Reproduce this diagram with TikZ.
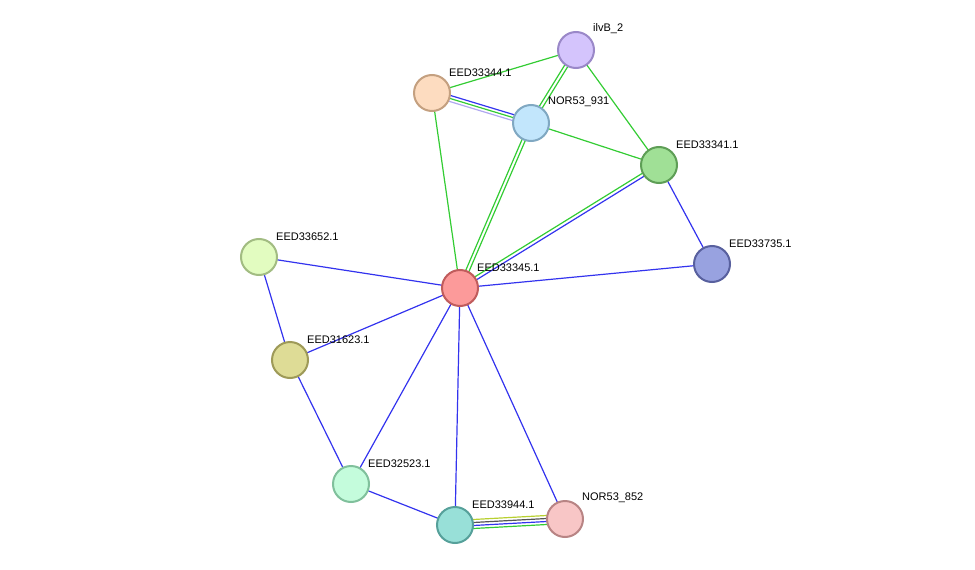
\documentclass[tikz,border=0pt]{standalone}
\usepackage{fontspec}
\setmainfont{Liberation Sans}
\usetikzlibrary{calc}

\definecolor{ppiblue}{HTML}{3333EE}
\definecolor{ppigreen}{HTML}{33CC33}
\definecolor{ppilav}{HTML}{B0A8F0}
\definecolor{ppigray}{HTML}{555555}
\definecolor{ppiyel}{HTML}{B8D030}

\tikzset{
  prot/.style={circle, minimum size=36pt, inner sep=0pt, line width=2pt},
  lbl/.style={font=\fontsize{11}{13}\selectfont, anchor=south west, inner sep=0pt},
  ed/.style={line width=1.2pt},
}
\newcommand{\offedge}[4]{% color, shift, from, to
  \draw[ed,#1] ($(#3)!#2!90:(#4)$) -- ($(#4)!#2!-90:(#3)$);}

\begin{document}
\begin{tikzpicture}[x=1pt,y=-1pt]
    \useasboundingbox (0,0) rectangle (975,570);
    \coordinate (ilvB) at (576,50);
    \coordinate (p344) at (432,93);
    \coordinate (n931) at (531,123);
    \coordinate (p341) at (659,165);
    \coordinate (p735) at (712,264);
    \coordinate (p345) at (460,288);
    \coordinate (p652) at (259,257);
    \coordinate (p623) at (290,360);
    \coordinate (p523) at (351,484);
    \coordinate (p944) at (455,525);
    \coordinate (n852) at (565,519);

    % edges
    \draw[ed,ppigreen] (p344) -- (ilvB);
    \draw[ed,ppigreen] (ilvB) -- (p341);
    \draw[ed,ppigreen] (n931) -- (p341);
    \draw[ed,ppigreen] (p344) -- (p345);
    \offedge{ppilav}{-3pt}{p344}{n931}
    \offedge{ppigreen}{0pt}{p344}{n931}
    \offedge{ppiblue}{3pt}{p344}{n931}
    \offedge{ppigreen}{-1.7pt}{ilvB}{n931}
    \offedge{ppigreen}{1.7pt}{ilvB}{n931}
    \offedge{ppigreen}{-1.7pt}{n931}{p345}
    \offedge{ppigreen}{1.7pt}{n931}{p345}
    \offedge{ppigreen}{-1.7pt}{p341}{p345}
    \offedge{ppiblue}{1.7pt}{p341}{p345}
    \foreach \a/\b in {p341/p735, p735/p345, p652/p345, p652/p623, p623/p345,
        p623/p523, p523/p345, p523/p944, p345/p944, p345/n852}
        \draw[ed,ppiblue] (\a) -- (\b);
    \offedge{ppigreen}{-4.5pt}{p944}{n852}
    \offedge{ppiblue}{-1.5pt}{p944}{n852}
    \offedge{ppigray}{1.5pt}{p944}{n852}
    \offedge{ppiyel}{4.5pt}{p944}{n852}

    % proteins
    \foreach \n/\f/\d/\t in {
        ilvB/D4C4FC/9A88C8/ilvB\_2,
        p344/FDDCC0/C4A080/EED33344.1,
        n931/C2E6FC/80A8C2/NOR53\_931,
        p341/A0E096/5E9E56/EED33341.1,
        p735/98A2E0/58609E/EED33735.1,
        p345/FC9A9A/C05C5C/EED33345.1,
        p652/E2FCC0/A2BC82/EED33652.1,
        p623/DEDC96/9E9A58/EED31623.1,
        p523/C4FCDC/80C09C/EED32523.1,
        p944/98E0D8/56A09A/EED33944.1,
        n852/F8C6C6/B88484/NOR53\_852}
    {
        \definecolor{fc}{HTML}{\f}\definecolor{dc}{HTML}{\d}
        \node[prot, fill=fc, draw=dc] (\n-c) at (\n) {};
        \node[lbl] (\n-l) at ($(\n)+(17,-16)$) {\t};
    };
\end{tikzpicture}
\end{document}
